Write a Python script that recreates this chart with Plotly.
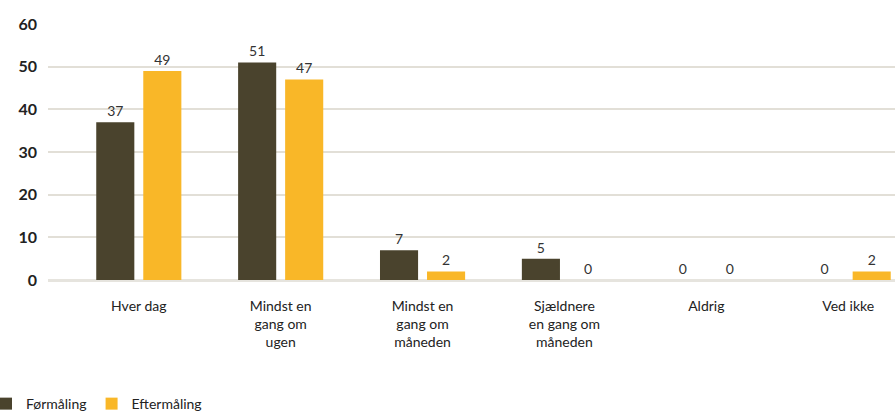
import plotly.graph_objects as go

categories = ["Hver dag", "Mindst en<br>gang om<br>ugen", "Mindst en<br>gang om<br>måneden",
              "Sjældnere<br>en gang om<br>måneden", "Aldrig", "Ved ikke"]
series_names = ["Førmåling", "Eftermåling"]
for_values = [37, 51, 7, 5, 0, 0]
efter_values = [49, 47, 2, 0, 0, 2]
y_ticks = [0, 10, 20, 30, 40, 50, 60]

colors = ["#4a432d", "#f9b728"]
font_family = "Lato, 'Open Sans', sans-serif"

fig = go.Figure()
for name, vals, col in zip(series_names, [for_values, efter_values], colors):
    fig.add_trace(go.Bar(
        x=categories, y=vals, name=name,
        marker=dict(color=col, line=dict(width=0)),
        text=[str(v) for v in vals], textposition="outside",
        textfont=dict(family=font_family, size=14, color="#333333"),
        cliponaxis=False,
    ))

fig.update_layout(
    width=895, height=414,
    margin=dict(l=48, r=0, t=24, b=134, autoexpand=False),
    paper_bgcolor="white", plot_bgcolor="white",
    barmode="group", bargap=0.337, bargroupgap=0.19,
    font=dict(family=font_family, color="#222222"),
    showlegend=True,
    legend=dict(orientation="h", xref="paper", yref="paper",
                x=-0.0732, y=-0.422, xanchor="left", yanchor="top",
                itemwidth=30, tracegroupgap=0,
                font=dict(family=font_family, size=14, color="#222222"),
                traceorder="normal"),
    xaxis=dict(type="category", range=[-0.64, 5.33], showgrid=False, automargin=False,
               showline=False, zeroline=False, ticks="", ticklabelstandoff=16,
               tickfont=dict(family=font_family, size=14, color="#222222")),
    yaxis=dict(range=[0, 60], tickvals=y_ticks, showgrid=True, automargin=False,
               gridcolor="#e2dfd7", gridwidth=1.5, zeroline=True,
               zerolinecolor="#e6e4de", zerolinewidth=2.5, showline=False,
               ticklabelstandoff=10,
               tickfont=dict(family=font_family, size=16, color="#222222", weight="bold")),
)

fig.write_html("out.html", config={"displayModeBar": False},
               post_script="document.body.style.margin='0';document.body.style.overflow='hidden';")
